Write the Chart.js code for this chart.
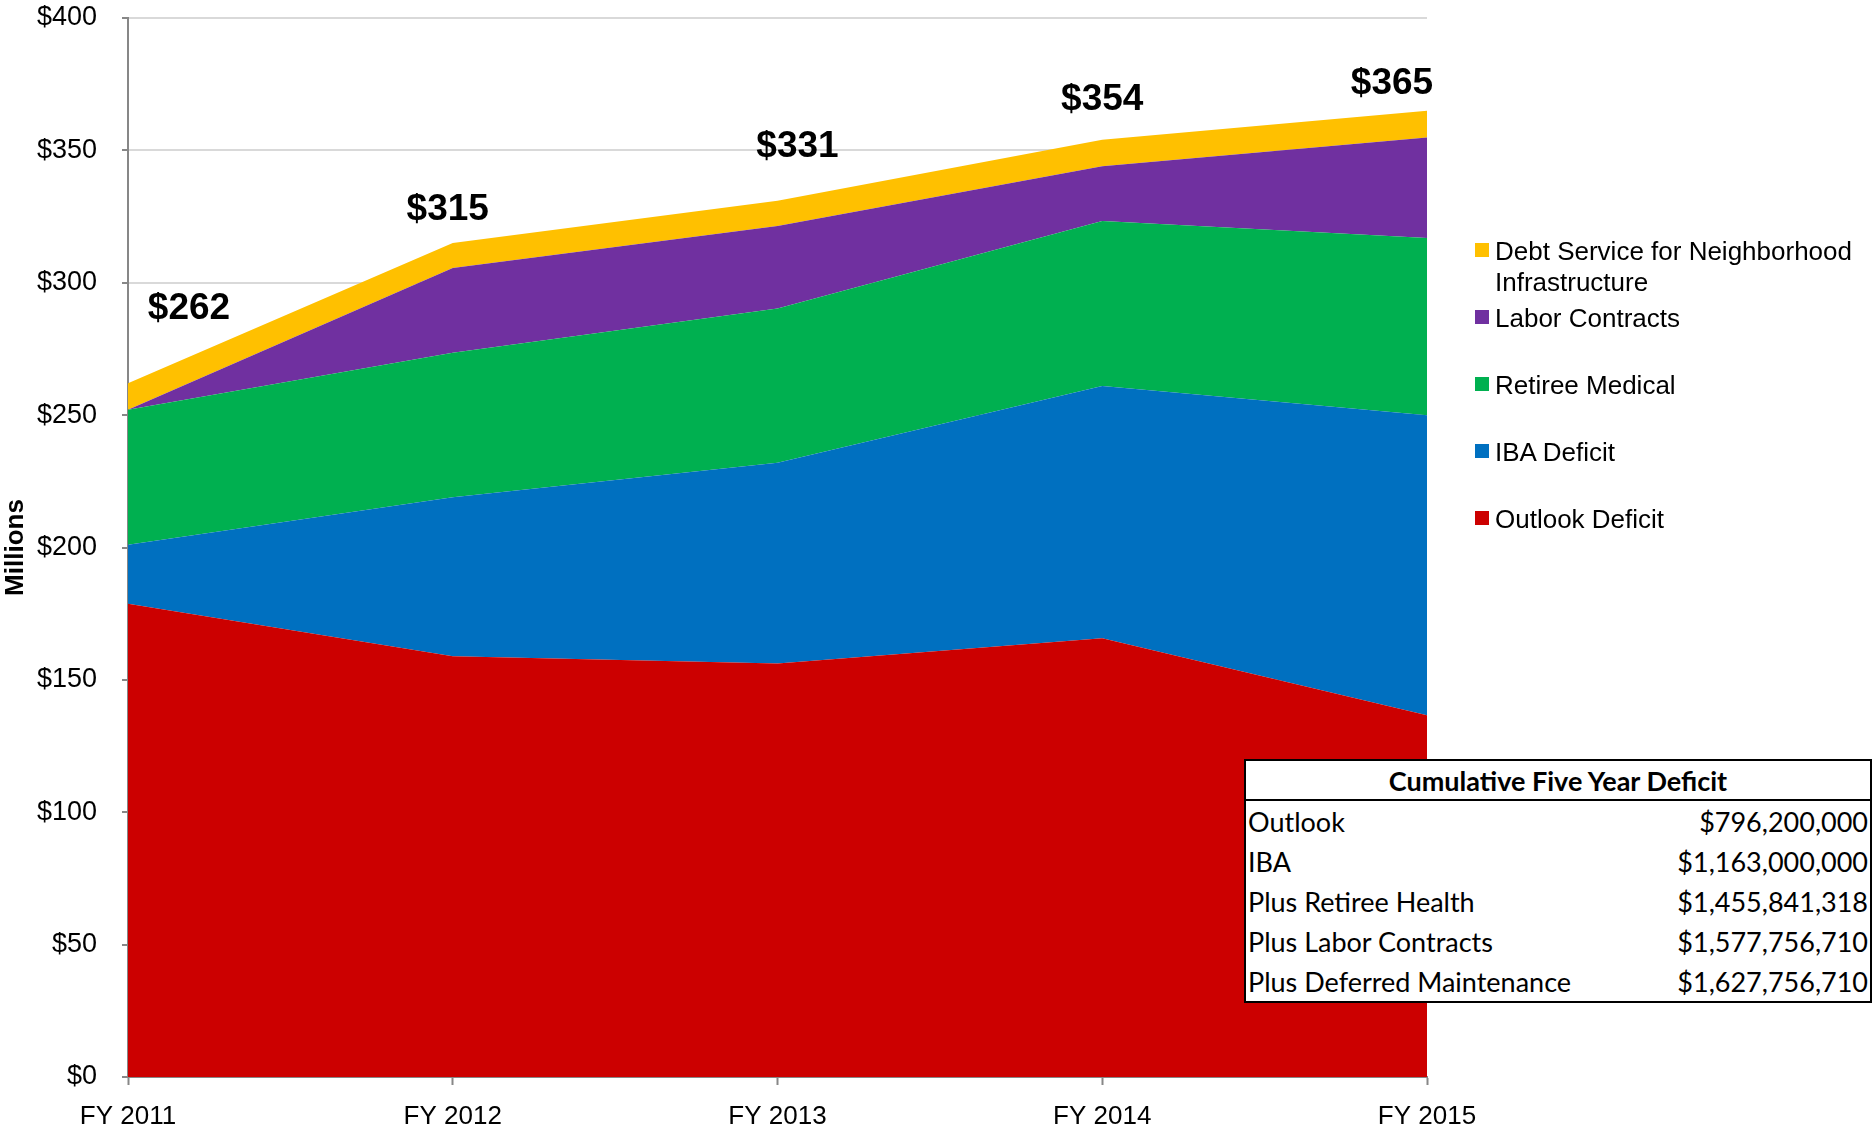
<!DOCTYPE html>
<html>
<head>
<meta charset="utf-8">
<script src="https://cdn.jsdelivr.net/npm/chart.js@4.4.1/dist/chart.umd.min.js"></script>
<style>
  body { margin: 0; background: #fff; }
  #wrap { position: relative; width: 1874px; height: 1138px; }
  #legend { position: absolute; left: 1475px; top: 236px; font-family: "Liberation Sans", Arial, sans-serif; font-size: 26px; line-height: 31px; color: #000; }
  .item { position: absolute; left: 0; width: 400px; }
  .item .box { position: absolute; left: 0; top: 7px; width: 14px; height: 14px; }
  .item .txt { position: absolute; left: 20px; width: 375px; }
  #cumulative { position: absolute; left: 1244px; top: 759px; width: 628px; border-collapse: collapse; border: 2px solid #000; background: #fff; font-family: Lato, "Open Sans", sans-serif; font-size: 27px; color: #000; }
  #cumulative th { font-weight: bold; text-align: center; height: 38px; padding: 0; border-bottom: 2px solid #000; }
  #cumulative td { height: 40px; padding: 0 2px; white-space: nowrap; }
  #cumulative td.val { text-align: right; }
</style>
</head>
<body>
<div id="wrap">
  <canvas id="chartDeficit"></canvas>
  <div id="legend"></div>
  <table id="cumulative"></table>
</div>
<script>
// data (millions)
const years = ['FY 2011', 'FY 2012', 'FY 2013', 'FY 2014', 'FY 2015'];
const outlookDeficit = [178.8, 158.9, 156.2, 165.7, 136.6];
const ibaDeficit = [22.2, 60.1, 75.8, 95.3, 113.4];
const retireeMedical = [51.0, 54.6, 58.3, 62.3, 66.9];
const laborContracts = [0, 32.0, 31.1, 20.7, 38.0];
const debtService = [10.0, 9.4, 9.6, 10.0, 10.1];
const yTicks = [0, 50, 100, 150, 200, 250, 300, 350, 400];

const tableTitle = 'Cumulative Five Year Deficit';
const tableRows = ['Outlook', 'IBA', 'Plus Retiree Health', 'Plus Labor Contracts', 'Plus Deferred Maintenance'];
const tableValues = ['$796,200,000', '$1,163,000,000', '$1,455,841,318', '$1,577,756,710', '$1,627,756,710'];

// bottom to top
const series = [
  { label: 'Outlook Deficit', data: outlookDeficit, color: '#CC0000' },
  { label: 'IBA Deficit', data: ibaDeficit, color: '#0070C0' },
  { label: 'Retiree Medical', data: retireeMedical, color: '#00B050' },
  { label: 'Labor Contracts', data: laborContracts, color: '#7030A0' },
  { label: 'Debt Service for Neighborhood Infrastructure', data: debtService, color: '#FFC000' }
];

const totals = years.map((y, i) => Math.round(series.reduce((s, d) => s + d.data[i], 0)));
// hand placed total labels, px from the top of the stack
const labelOffsets = [[61, -75], [-5, -33], [20, -54], [0, -40], [-35, -27]];

const totalLabels = {
  id: 'totalLabels',
  afterDatasetsDraw(chart) {
    const ctx = chart.ctx;
    const meta = chart.getDatasetMeta(chart.data.datasets.length - 1);
    ctx.save();
    ctx.font = 'bold 37px "Liberation Sans", Arial, sans-serif';
    ctx.fillStyle = '#000';
    ctx.textAlign = 'center';
    ctx.textBaseline = 'middle';
    meta.data.forEach((pt, i) => {
      ctx.fillText('$' + totals[i], pt.x + labelOffsets[i][0], pt.y + labelOffsets[i][1]);
    });
    ctx.restore();
  }
};

const axisFont = { family: '"Liberation Sans", Arial, sans-serif', size: 27 };

new Chart(document.getElementById('chartDeficit'), {
  type: 'line',
  data: {
    labels: years,
    datasets: series.map((s, i) => ({
      label: s.label,
      data: s.data,
      backgroundColor: s.color,
      borderColor: s.color,
      borderWidth: 0,
      pointRadius: 0,
      tension: 0,
      fill: i === 0 ? 'origin' : '-1'
    }))
  },
  options: {
    responsive: true,
    maintainAspectRatio: false,
    animation: false,
    layout: { padding: { top: 18, right: 447, left: 0, bottom: 0 } },
    plugins: {
      legend: { display: false },
      tooltip: { enabled: false }
    },
    scales: {
      x: {
        offset: false,
        grid: { drawOnChartArea: false, tickLength: 8, tickColor: '#878787', tickWidth: 2 },
        border: { color: '#878787', width: 2 },
        ticks: { color: '#000', font: { ...axisFont, size: 26 }, padding: 16, maxRotation: 0 },
        afterFit: scale => { scale.height = 61; scale.paddingLeft = 0; scale.paddingRight = 0; }
      },
      y: {
        stacked: true,
        min: 0,
        max: 400,
        afterBuildTicks: scale => { scale.ticks = yTicks.map(v => ({ value: v })); },
        grid: { color: '#D9D9D9', lineWidth: 2, tickLength: 6, tickColor: '#878787', tickWidth: 2 },
        border: { color: '#878787', width: 2 },
        ticks: { color: '#000', font: axisFont, padding: 25, callback: v => '$' + v },
        title: { display: true, text: 'Millions', color: '#000', font: { ...axisFont, size: 26, weight: 'bold' }, padding: { top: 0, bottom: 0 } },
        afterFit: scale => { scale.width = 128; scale.paddingTop = 0; scale.paddingBottom = 0; }
      }
    }
  },
  plugins: [totalLabels]
});

// legend, top series first
const legend = document.getElementById('legend');
series.slice().reverse().forEach((s, i) => {
  const item = document.createElement('div');
  item.className = 'item';
  item.style.top = (i * 67) + 'px';
  item.innerHTML = '<span class="box" style="background:' + s.color + '"></span><span class="txt">' + s.label + '</span>';
  legend.appendChild(item);
});

// cumulative table
const table = document.getElementById('cumulative');
let html = '<tr><th colspan="2">' + tableTitle + '</th></tr>';
tableRows.forEach((r, i) => {
  html += '<tr><td>' + r + '</td><td class="val">' + tableValues[i] + '</td></tr>';
});
table.innerHTML = html;
</script>
</body>
</html>
